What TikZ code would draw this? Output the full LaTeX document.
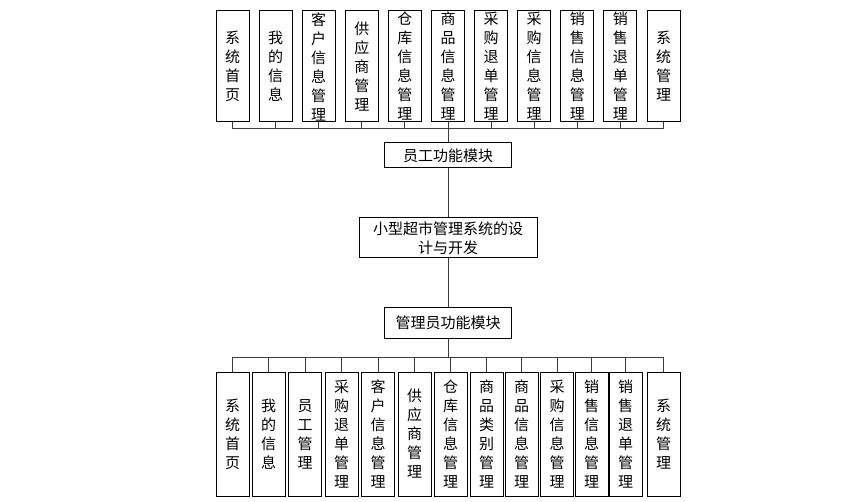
\documentclass[tikz,border=0pt]{standalone}
\usepackage{fontspec}
\setmainfont{Noto Sans CJK SC}
\usepackage{tikz}
\definecolor{wire}{RGB}{60,60,60}
\tikzset{
  colbox/.style={draw, line width=0.75pt, fill=white, inner sep=0pt, align=center,
    minimum width=24.75pt, minimum height=83.25pt},
  lowbox/.style={colbox, minimum height=93pt},
  modbox/.style={draw, line width=0.75pt, fill=white, inner sep=0pt, align=center,
    minimum width=95pt},
  link/.style={draw=wire, line width=0.75pt}
}

\begin{document}
\begin{tikzpicture}[x=0.75pt,y=-0.75pt,font=\fontsize{11.25pt}{14.25pt}\selectfont]
\useasboundingbox (0,0) rectangle (856,502);
% middle column
\node[modbox, minimum height=18.75pt] (emp) at (448,155.5) {员工功能模块};
\node[modbox, minimum width=133.5pt, minimum height=30pt] (sys) at (448,238) {小型超市管理系统的设\\计与开发};
\node[modbox, minimum height=23.25pt] (adm) at (448,322.5) {管理员功能模块};
\draw[link] (emp.south) -- (sys.north);
\draw[link] (sys.south) -- (adm.north);

% employee modules
\foreach \t [count=\i] in {{系\\统\\首\\页},{我\\的\\信\\息},{客\\户\\信\\息\\管\\理},{供\\应\\商\\管\\理},
  {仓\\库\\信\\息\\管\\理},{商\\品\\信\\息\\管\\理},{采\\购\\退\\单\\管\\理},{采\\购\\信\\息\\管\\理},
  {销\\售\\信\\息\\管\\理},{销\\售\\退\\单\\管\\理},{系\\统\\管\\理}}
  \node[colbox] (e\i) at ({232.5+43.1*(\i-1)},66.5) {\t};
\coordinate (ebus) at (448,129);
\foreach \i in {1,...,11} \draw[link] (e\i.south) -- (e\i.south |- ebus);
\draw[link] (e1.south |- ebus) -- (e11.south |- ebus);
\draw[link] (emp.north) -- (ebus);

% admin modules
\foreach \x/\t [count=\i] in {232.5/{系\\统\\首\\页},268.5/{我\\的\\信\\息},305/{员\\工\\管\\理},
  341.5/{采\\购\\退\\单\\管\\理},378/{客\\户\\信\\息\\管\\理},414.5/{供\\应\\商\\管\\理},
  450.5/{仓\\库\\信\\息\\管\\理},486.5/{商\\品\\类\\别\\管\\理},521.5/{商\\品\\信\\息\\管\\理},
  557/{采\\购\\信\\息\\管\\理},591.5/{销\\售\\信\\息\\管\\理},625.5/{销\\售\\退\\单\\管\\理},
  663.5/{系\\统\\管\\理}}
  \node[lowbox] (a\i) at (\x,434) {\t};
\coordinate (abus) at (448,357);
\foreach \i in {1,...,13} \draw[link] (a\i.north) -- (a\i.north |- abus);
\draw[link] (a1.north |- abus) -- (a13.north |- abus);
\draw[link] (adm.south) -- (abus);
\end{tikzpicture}
\end{document}
